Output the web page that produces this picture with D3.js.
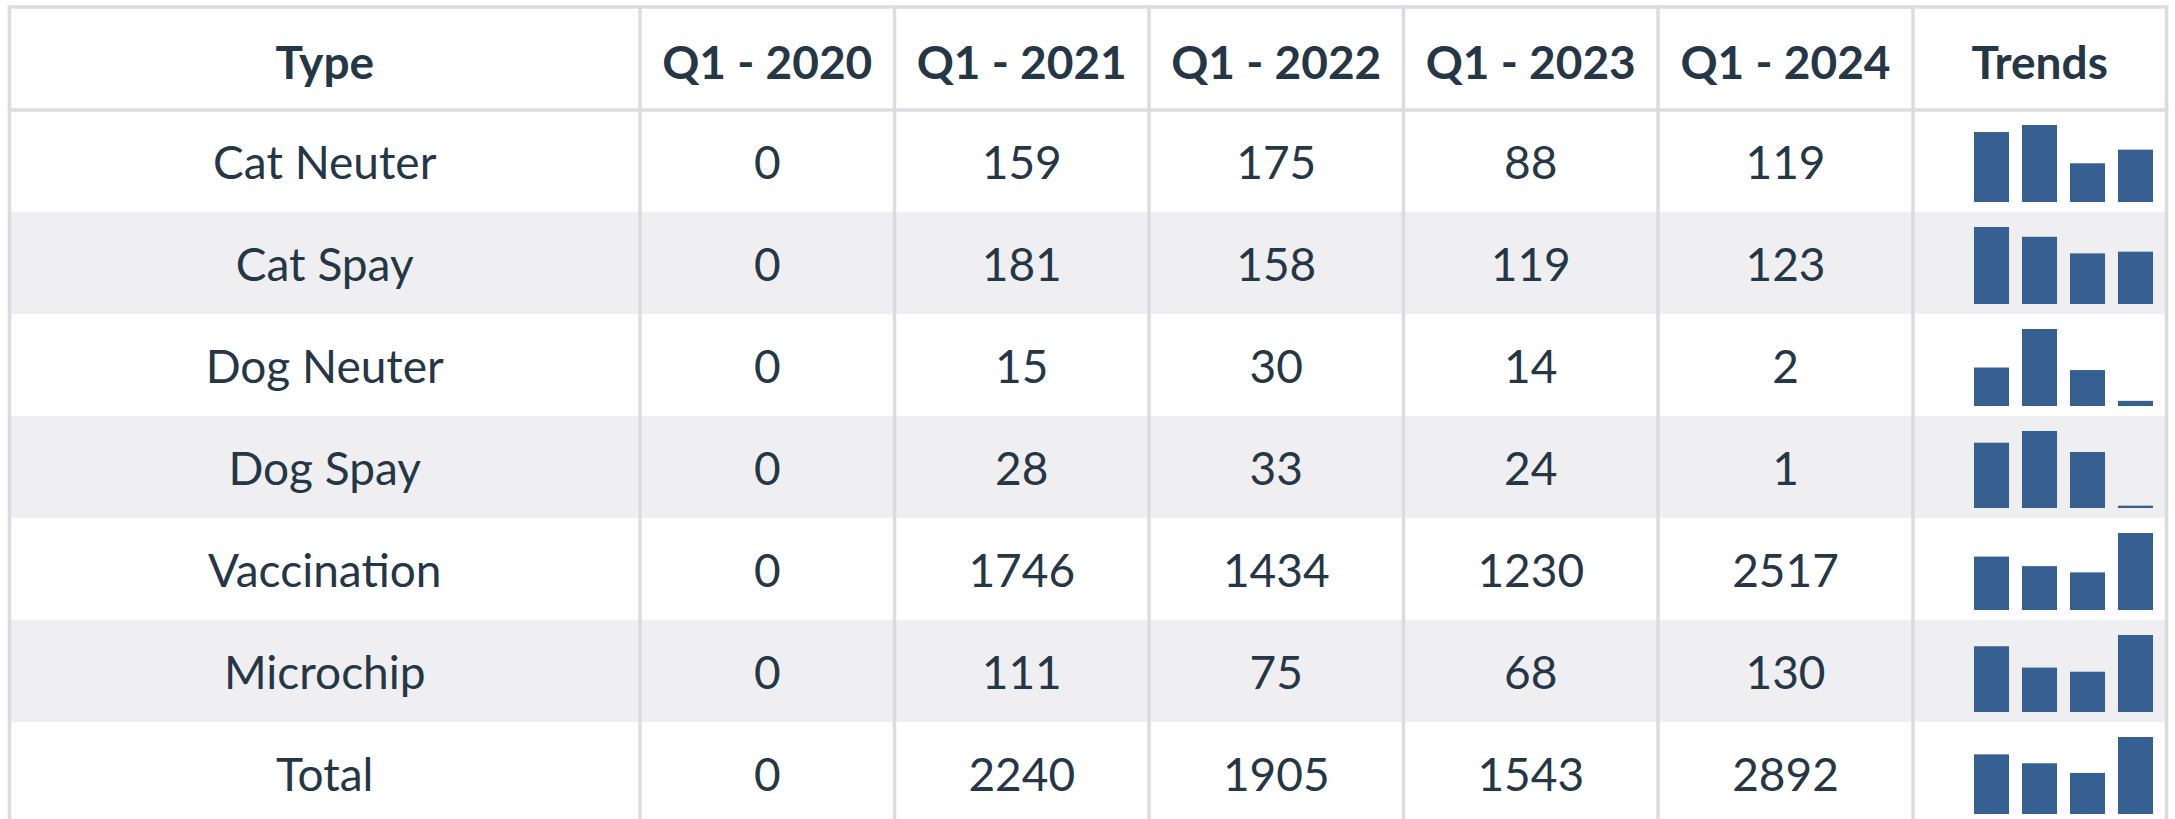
<!DOCTYPE html>
<html>
<head>
<meta charset="utf-8">
<script src="https://cdn.jsdelivr.net/npm/d3@7"></script>
<style>
  html, body { margin: 0; padding: 0; background: #ffffff; }
  svg { display: block; }
</style>
</head>
<body>
<svg id="chart" width="2175" height="819"></svg>
<script>
// ---- data ----
const headers = ["Type", "Q1 - 2020", "Q1 - 2021", "Q1 - 2022", "Q1 - 2023", "Q1 - 2024", "Trends"];
const types = ["Cat Neuter", "Cat Spay", "Dog Neuter", "Dog Spay", "Vaccination", "Microchip", "Total"];
const q1_2020 = [0, 0, 0, 0, 0, 0, 0];
const q1_2021 = [159, 181, 15, 28, 1746, 111, 2240];
const q1_2022 = [175, 158, 30, 33, 1434, 75, 1905];
const q1_2023 = [88, 119, 14, 24, 1230, 68, 1543];
const q1_2024 = [119, 123, 2, 1, 2517, 130, 2892];
const trendYears = ["Q1 - 2021", "Q1 - 2022", "Q1 - 2023", "Q1 - 2024"];

// ---- layout ----
const W = 2175, H = 819;
const tblLeft = 9.5, tblRight = 2166.5;
const colEdges = [tblLeft, 640, 894.5, 1149, 1403.5, 1658, 1913, tblRight];
const tblTop = 7, headerBottom = 110, rowH = 102;
const textColor = "#253746";
const borderColor = "#dcdbe1";
const shadeColor = "#efeff1";
const barColor = "#366092";

const svg = d3.select("#chart");

const rowsData = types.map((t, i) => ({
  type: t,
  values: [q1_2020[i], q1_2021[i], q1_2022[i], q1_2023[i], q1_2024[i]]
}));

const rowY = d3.scaleLinear().domain([0, 1]).range([headerBottom, headerBottom + rowH]);

// shaded rows
svg.append("g").selectAll("rect")
  .data(rowsData.map((d, i) => i).filter(i => i % 2 === 1))
  .join("rect")
  .attr("x", tblLeft).attr("width", tblRight - tblLeft)
  .attr("y", i => rowY(i)).attr("height", rowH)
  .attr("fill", shadeColor);

// header text
const colCenter = i => (colEdges[i] + colEdges[i + 1]) / 2;
svg.append("g").selectAll("text")
  .data(headers)
  .join("text")
  .attr("x", (d, i) => colCenter(i))
  .attr("y", (tblTop + headerBottom) / 2 + 20)
  .attr("text-anchor", "middle")
  .attr("font-family", "Lato, 'Open Sans', sans-serif")
  .attr("font-weight", "bold")
  .attr("font-size", 46)
  .attr("fill", textColor)
  .text(d => d);

// body text
const rowG = svg.append("g").selectAll("g")
  .data(rowsData)
  .join("g")
  .attr("transform", (d, i) => `translate(0,${rowY(i)})`);

rowG.selectAll("text")
  .data(d => [d.type, ...d.values])
  .join("text")
  .attr("x", (d, i) => colCenter(i))
  .attr("y", rowH / 2 + 17.5)
  .attr("text-anchor", "middle")
  .attr("font-family", "Lato, 'Open Sans', sans-serif")
  .attr("font-size", 46)
  .attr("fill", textColor)
  .text(d => d);

// sparkline bars
const bx = d3.scaleBand().domain(trendYears).range([1974, 2153]).paddingInner(0.27).paddingOuter(0);
rowG.each(function(d) {
  const vals = d.values.slice(1);
  const y = d3.scaleLinear().domain([0, d3.max(vals)]).range([92, 15]);
  d3.select(this).selectAll("rect.bar")
    .data(vals.map((v, k) => ({ k: trendYears[k], v })))
    .join("rect")
    .attr("class", "bar")
    .attr("x", e => bx(e.k))
    .attr("width", bx.bandwidth())
    .attr("y", e => y(e.v))
    .attr("height", e => y(0) - y(e.v))
    .attr("fill", barColor);
});

// grid lines
const g = svg.append("g").attr("stroke", borderColor).attr("stroke-width", 3.5).attr("fill", "none");
g.append("line").attr("x1", tblLeft - 1.75).attr("x2", tblRight + 1.75).attr("y1", tblTop).attr("y2", tblTop);
g.append("line").attr("x1", tblLeft - 1.75).attr("x2", tblRight + 1.75).attr("y1", headerBottom).attr("y2", headerBottom);
g.selectAll("line.v").data(colEdges).join("line").attr("class", "v")
  .attr("x1", d => d).attr("x2", d => d)
  .attr("y1", tblTop - 1.75).attr("y2", H);
</script>
</body>
</html>
